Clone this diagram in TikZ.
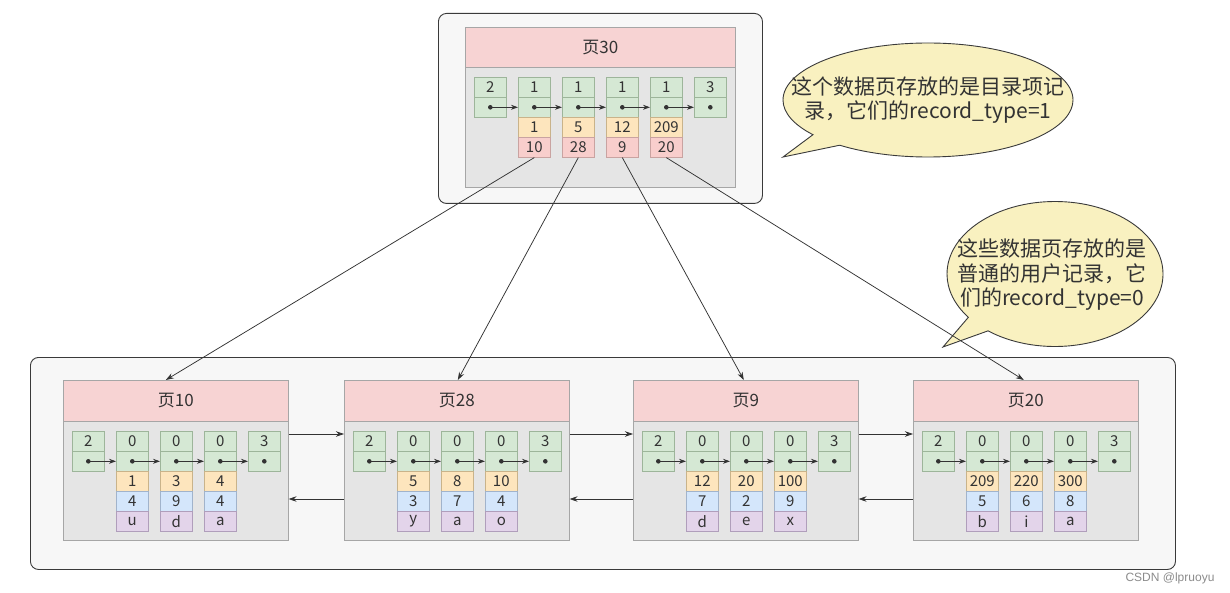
\documentclass[tikz,border=0pt]{standalone}
\usepackage{fontspec}
\setmainfont{Noto Sans CJK SC}
\newfontfamily\wmfont{Liberation Sans}
\usetikzlibrary{arrows.meta,shapes.callouts,calc}
\definecolor{gfill}{HTML}{D5E8D4}\definecolor{gline}{HTML}{9DB59A}
\definecolor{ofill}{HTML}{FDE5BD}\definecolor{oline}{HTML}{C9B38A}
\definecolor{rfill}{HTML}{F8CECC}\definecolor{rline}{HTML}{C9A3A1}
\definecolor{bfill}{HTML}{D4E6FB}\definecolor{bline}{HTML}{A1B3CB}
\definecolor{pfill}{HTML}{E3D4EA}\definecolor{pline}{HTML}{B09EBB}
\definecolor{headfill}{HTML}{F7D3D3}\definecolor{pagefill}{HTML}{E5E5E5}
\definecolor{pageline}{HTML}{A6A6A6}\definecolor{outerfill}{HTML}{F7F7F7}
\definecolor{outerline}{HTML}{3A3A3A}\definecolor{callfill}{HTML}{F9F1C0}
\definecolor{txt}{HTML}{333333}
\tikzset{
  cellbase/.style={rectangle, minimum width=32pt, minimum height=20pt, inner sep=0pt,
    anchor=north west, font=\fontsize{15}{15}\selectfont, text=txt, line width=0.6pt},
  gcell/.style={cellbase, fill=gfill, draw=gline},
  ocell/.style={cellbase, fill=ofill, draw=oline},
  rcell/.style={cellbase, fill=rfill, draw=rline},
  bcell/.style={cellbase, fill=bfill, draw=bline},
  pcell/.style={cellbase, fill=pfill, draw=pline},
  pagebody/.style={rectangle, anchor=north west, fill=pagefill, draw=pageline, line width=0.6pt, inner sep=0pt},
  pagehead/.style={rectangle, anchor=north west, fill=headfill, draw=pageline, line width=0.6pt, inner sep=0pt,
    font=\fontsize{17}{17}\selectfont, text=txt},
  outerbox/.style={rectangle, rounded corners=8pt, anchor=north west, fill=outerfill, draw=outerline, line width=0.9pt},
  inarr/.style={draw=txt, line width=0.8pt, -{Stealth[length=7pt,width=5pt]}},
  parr/.style={draw=txt, line width=0.75pt, -{Stealth[length=8pt,width=5.5pt]}},
  dotc/.style={fill=txt},
  callbox/.style={ellipse callout, fill=callfill, draw=outerline, line width=0.9pt, inner sep=0pt},
  ctext/.style={align=center, font=\fontsize{21}{24.5}\selectfont, text=txt, inner sep=0pt},
}
\newcommand\bpage[4]{%
  \node[pagebody, minimum width=225pt, minimum height=160pt] (#1) at (#2,380) {};
  \node[pagehead, minimum width=225pt, minimum height=41pt] (#1h) at (#2,380) {#3};
  \foreach \v [count=\k from 0] in {2,0,0,0,3} {
    \node[gcell] (#1t\k) at ({#2+9+44*\k},431) {\v};
    \node[gcell] (#1m\k) at ({#2+9+44*\k},451) {};
  }
  \foreach \a/\b/\c [count=\k] in {#4} {
    \node[ocell] (#1o\k) at ({#2+9+44*\k},471) {\a};
    \node[bcell] (#1b\k) at ({#2+9+44*\k},491) {\b};
    \node[pcell] (#1p\k) at ({#2+9+44*\k},511) {\c};
  }
  \foreach \k [evaluate=\k as \n using {int(\k+1)}] in {0,...,3} {
    \fill[dotc] (#1m\k.center) circle (2.3pt);
    \draw[inarr] (#1m\k.center) -- (#1m\n.west);
  }
  \fill[dotc] (#1m4.center) circle (2.3pt);
}
\begin{document}
\begin{tikzpicture}[x=1pt,y=-1pt]
\useasboundingbox (0,0) rectangle (1230,593);
\fill[white] (0,0) rectangle (1230,593);
% outer boxes
\node[outerbox, minimum width=324pt, minimum height=190pt] (topbox) at (438,13) {};
\node[outerbox, minimum width=1145pt, minimum height=212pt] (botbox) at (30,357) {};
% page 30
\node[pagebody, minimum width=270pt, minimum height=160pt] (p30) at (465,27) {};
\node[pagehead, minimum width=270pt, minimum height=40pt] (p30h) at (465,27) {页30};
\foreach \v [count=\k from 0] in {2,1,1,1,1,3} {
  \node[gcell] (p30t\k) at ({474+44*\k},77) {\v};
  \node[gcell] (p30m\k) at ({474+44*\k},97) {};
}
\foreach \a/\b [count=\k] in {1/10,5/28,12/9,209/20} {
  \node[ocell] (p30o\k) at ({474+44*\k},117) {\a};
  \node[rcell] (p30r\k) at ({474+44*\k},137) {\b};
}
\foreach \k [evaluate=\k as \n using {int(\k+1)}] in {0,...,4} {
  \fill[dotc] (p30m\k.center) circle (2.3pt);
  \draw[inarr] (p30m\k.center) -- (p30m\n.west);
}
\fill[dotc] (p30m5.center) circle (2.3pt);
% bottom pages
\bpage{p10}{63}{页10}{1/4/u,3/9/d,4/4/a}
\bpage{p28}{344}{页28}{5/3/y,8/7/a,10/4/o}
\bpage{p9}{633}{页9}{12/7/d,20/2/e,100/9/x}
\bpage{p20}{913}{页20}{209/5/b,220/6/i,300/8/a}
% page links
\foreach \a/\b in {p10/p28,p28/p9,p9/p20} {
  \draw[parr] ([yshift=-54pt]\a.north east) -- ([yshift=-54pt]\b.north west);
  \draw[parr] ([yshift=-119pt]\b.north west) -- ([yshift=-119pt]\a.north east);
}
% callouts
\node[callbox, minimum width=290pt, minimum height=114pt, callout absolute pointer={(783,157)}] (c1) at (928,100) {};
\node[ctext] (c1t) at (928,100) {这个数据页存放的是目录项记\\录，它们的record\_type=1};
\node[callbox, minimum width=216pt, minimum height=145pt, callout absolute pointer={(943,347)}] (c2) at (1055,274) {};
\node[ctext] (c2t) at (1052,275) {这些数据页存放的是\\普通的用户记录，它\\们的record\_type=0};
% directory links
\draw[parr] (p30r1.south) -- ([xshift=-10pt]p10.north);
\draw[parr] (p30r2.south) -- ([xshift=1pt]p28.north);
\draw[parr] (p30r3.south) -- ([xshift=-2pt]p9.north);
\draw[parr] (p30r4.south) -- ([xshift=-2pt]p20.north);
% watermark
\node[text=black!45, font=\wmfont\fontsize{12}{12}\selectfont, inner sep=0pt] (wm) at (1170,578) {CSDN @lpruoyu};
\end{tikzpicture}
\end{document}
